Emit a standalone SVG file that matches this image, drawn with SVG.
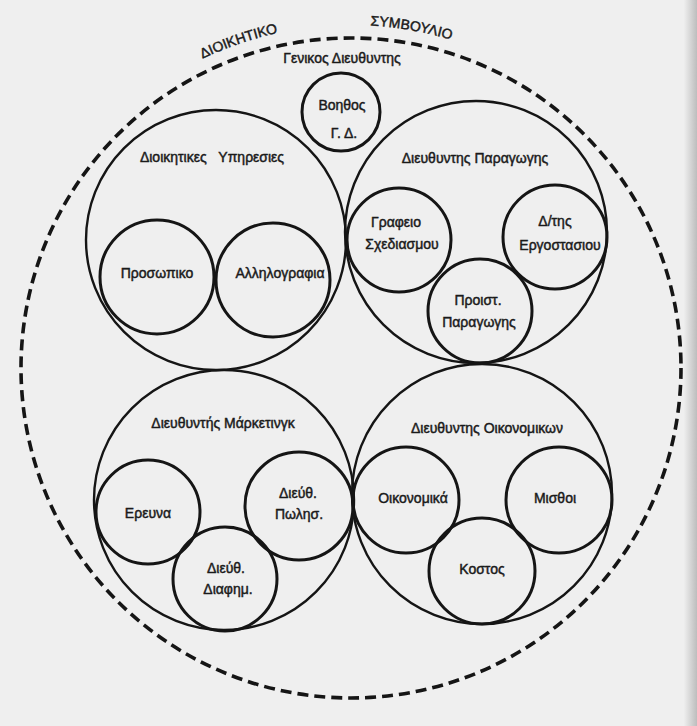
<svg xmlns="http://www.w3.org/2000/svg" width="697" height="726" viewBox="0 0 697 726">
<defs>
<linearGradient id="edge" x1="0" y1="0" x2="1" y2="0">
<stop offset="0" stop-color="#eeeeee"/>
<stop offset="1" stop-color="#bdbdbd"/>
</linearGradient>
<path id="arcTop" d="M 8 368 A 343 343 0 0 1 694 368"/>
</defs>
<style>
.big{fill:none;stroke:#151515;stroke-width:2.4}
.sm{fill:none;stroke:#151515;stroke-width:3}
.outer{fill:none;stroke:#151515;stroke-width:3.6;stroke-dasharray:11 6}
text{font-family:"Liberation Sans","Noto Sans",Arial,sans-serif;fill:#1a1a1a;stroke:#1a1a1a;stroke-width:0.45;font-size:14px;text-anchor:middle}
.cap{font-size:14px}
</style>
<rect x="0" y="0" width="697" height="726" fill="#efefef"/>
<rect x="684" y="0" width="13" height="726" fill="url(#edge)"/>

<g id="board">
<circle class="outer" cx="351" cy="368" r="330"/>
<text class="cap"><textPath href="#arcTop" startOffset="425">ΔΙΟΙΚΗΤΙΚΟ</textPath></text>
<text class="cap"><textPath href="#arcTop" startOffset="599">ΣΥΜΒΟΥΛΙΟ</textPath></text>
<text x="342" y="63">Γενικος Διευθυντης</text>
</g>

<g id="assistant">
<circle class="sm" cx="341" cy="112" r="39"/>
<text x="342" y="110">Βοηθος</text>
<text x="344" y="138">Γ. Δ.</text>
</g>

<g id="admin">
<circle class="big" cx="216" cy="240" r="130"/>
<text x="212" y="162">Διοικητικες&#160;&#160;&#160;Υπηρεσιες</text>
</g>
<g id="personnel">
<circle class="sm" cx="157" cy="277" r="57"/>
<text x="157" y="278">Προσωπικο</text>
</g>
<g id="correspondence">
<circle class="sm" cx="273" cy="280" r="57"/>
<text x="280" y="278">Αλληλογραφια</text>
</g>

<g id="production">
<circle class="big" cx="476" cy="232" r="131"/>
<text x="475" y="163">Διευθυντης Παραγωγης</text>
</g>
<g id="design">
<circle class="sm" cx="399" cy="240" r="52"/>
<text x="396" y="227">Γραφειο</text>
<text x="402" y="249">Σχεδιασμου</text>
</g>
<g id="factory">
<circle class="sm" cx="555" cy="237" r="52"/>
<text x="555" y="226">Δ/της</text>
<text x="560" y="250">Εργοστασιου</text>
</g>
<g id="prodhead">
<circle class="sm" cx="480" cy="311" r="52"/>
<text x="478" y="305">Προιστ.</text>
<text x="479" y="327">Παραγωγης</text>
</g>

<g id="marketing">
<circle class="big" cx="224" cy="500" r="130"/>
<text x="223" y="428">Διευθυντής Μάρκετινγκ</text>
</g>
<g id="research">
<circle class="sm" cx="148" cy="512" r="52"/>
<text x="148" y="518">Ερευνα</text>
</g>
<g id="sales">
<circle class="sm" cx="299" cy="506" r="54"/>
<text x="298" y="498">Διεύθ.</text>
<text x="299" y="519">Πωλησ.</text>
</g>
<g id="advertising">
<circle class="sm" cx="225" cy="579" r="52"/>
<text x="226" y="573">Διεύθ.</text>
<text x="228" y="594">Διαφημ.</text>
</g>

<g id="finance">
<circle class="big" cx="482" cy="494" r="130"/>
<text x="487" y="433">Διευθυντης Οικονομικων</text>
</g>
<g id="economics">
<circle class="sm" cx="406" cy="500" r="53"/>
<text x="413" y="503">Οικονομικά</text>
</g>
<g id="salaries">
<circle class="sm" cx="559" cy="500" r="53"/>
<text x="555" y="503">Μισθοι</text>
</g>
<g id="cost">
<circle class="sm" cx="482" cy="571" r="53"/>
<text x="482" y="574">Κοστος</text>
</g>

<g id="connectors"></g>
</svg>
